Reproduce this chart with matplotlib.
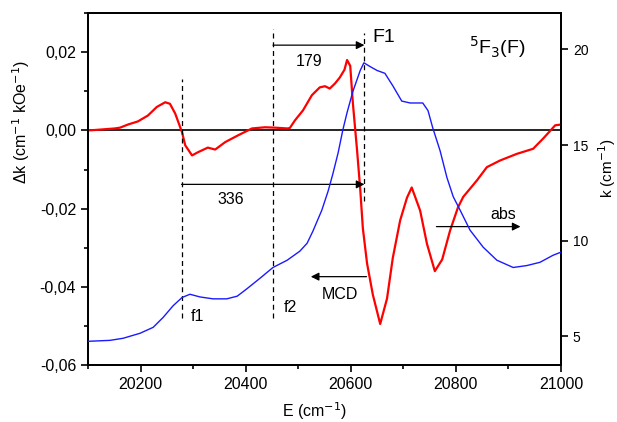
import numpy as np
import matplotlib
matplotlib.use("Agg")
import matplotlib.pyplot as plt
from matplotlib.ticker import MultipleLocator, FuncFormatter

plt.rcParams['font.family'] = ['Liberation Sans', 'DejaVu Sans']

# MCD spectrum (left axis)
e_mcd = [20100, 20113, 20123, 20151, 20161, 20176, 20195, 20214, 20231, 20247,
         20256, 20266, 20279, 20285, 20298, 20309, 20328, 20342, 20361, 20385,
         20412, 20437, 20456, 20479, 20484, 20494, 20509, 20526, 20541, 20551,
         20560, 20570, 20579, 20588, 20593, 20599, 20604, 20612, 20618, 20623,
         20631, 20642, 20656, 20669, 20680, 20694, 20707, 20716, 20732, 20745,
         20760, 20774, 20789, 20804, 20814, 20840, 20859, 20884, 20916, 20947,
         20966, 20989, 21000]
dk = [0.0, 0.0001, 0.0002, 0.0005, 0.0007, 0.0015, 0.0023, 0.0038, 0.0060, 0.0072,
      0.0068, 0.0043, -0.0005, -0.0038, -0.0064, -0.0056, -0.0044, -0.0049, -0.0030, -0.0013,
      0.0005, 0.0008, 0.0007, 0.0005, 0.0006, 0.0026, 0.0051, 0.0090, 0.0110, 0.0113,
      0.0107, 0.0120, 0.0135, 0.0155, 0.0180, 0.0165, 0.0070, -0.0051, -0.0150, -0.0250,
      -0.0340, -0.0420, -0.0495, -0.0430, -0.0326, -0.0230, -0.0172, -0.0146, -0.0205, -0.0290,
      -0.0360, -0.0330, -0.0256, -0.0197, -0.0170, -0.0128, -0.0094, -0.0077, -0.0060, -0.0047,
      -0.0021, 0.0013, 0.0015]

# absorption spectrum (right axis)
e_abs = [20100, 20142, 20167, 20199, 20224, 20243, 20262, 20279, 20294, 20313,
         20338, 20364, 20384, 20403, 20427, 20452, 20479, 20503, 20517, 20528,
         20545, 20557, 20566, 20576, 20585, 20593, 20604, 20618, 20625, 20637,
         20650, 20665, 20680, 20697, 20713, 20737, 20747, 20756, 20770, 20783,
         20795, 20808, 20827, 20852, 20878, 20909, 20935, 20960, 20985, 21000]
k = [4.74, 4.79, 4.9, 5.16, 5.47, 5.99, 6.6, 7.03, 7.2, 7.06,
     6.96, 6.96, 7.1, 7.5, 8.03, 8.6, 8.98, 9.45, 9.87, 10.5,
     11.6, 12.6, 13.5, 14.6, 15.8, 16.7, 17.8, 18.9, 19.3, 19.1,
     18.9, 18.75, 18.1, 17.3, 17.2, 17.2, 16.8, 15.9, 14.7, 13.3,
     12.3, 11.6, 10.55, 9.66, 8.98, 8.6, 8.7, 8.87, 9.24, 9.4]

fig = plt.figure(figsize=(6.17, 4.22), dpi=100)
ax = fig.add_axes([0.1426, 0.135, 0.7666, 0.834])
ax2 = ax.twinx()

ax.plot(e_mcd, dk, color='red', lw=1.6, zorder=3)
ax2.plot(e_abs, k, color='#1a1aff', lw=1.0, zorder=3)
ax.axhline(0, color='black', lw=1.2, zorder=2)

ax.set_xlim(20100, 21000)
ax.set_ylim(-0.06, 0.03)
ax2.set_ylim(3.5, 21.9)

ax.xaxis.set_major_locator(MultipleLocator(200))
ax.xaxis.set_minor_locator(MultipleLocator(100))
ax.yaxis.set_major_locator(MultipleLocator(0.02))
ax.yaxis.set_minor_locator(MultipleLocator(0.01))
ax2.yaxis.set_major_locator(MultipleLocator(5))
ax.yaxis.set_major_formatter(FuncFormatter(lambda v, p: ('%.2f' % v).replace('.', ',').replace('-0,00', '0,00')))

ax.tick_params(axis='both', which='major', direction='out', length=5, width=1.2, labelsize=11.5)
ax.tick_params(axis='both', which='minor', direction='out', length=3, width=1.2)
ax2.tick_params(axis='y', which='major', direction='out', length=5, width=1.2, labelsize=10)
for a in (ax, ax2):
    for s in a.spines.values():
        s.set_linewidth(1.3)

ax.set_xlabel('E (cm$^{-1}$)', fontsize=11.5)
ax.set_ylabel('Δk (cm$^{-1}$ kOe$^{-1}$)', fontsize=11.5)
ax2.set_ylabel('k (cm$^{-1}$)', fontsize=11, ha='center', va='center')
ax.yaxis.set_label_coords(-0.118, 0.69)
ax2.yaxis.set_label_coords(1.098, 0.56)
ax.xaxis.set_label_coords(0.48, -0.1)

# dashed markers
dash = dict(color='black', lw=0.9, ls=(0, (4, 3)), zorder=4)
ax.plot([20278, 20278], [-0.048, 0.0131], **dash)
ax.plot([20452, 20452], [-0.048, 0.026], **dash)
ax.plot([20626, 20626], [-0.018, 0.025], **dash)

arr = dict(arrowstyle='-|>', color='black', lw=0.9, mutation_scale=12, shrinkA=0, shrinkB=0)
ax.annotate('', xy=(20626, 0.0218), xytext=(20452, 0.0218), arrowprops=arr)
ax.annotate('', xy=(20626, -0.0138), xytext=(20278, -0.0138), arrowprops=arr)
ax.annotate('', xy=(20524, -0.0374), xytext=(20630, -0.0374), arrowprops=arr)
ax.annotate('', xy=(20923, -0.0246), xytext=(20763, -0.0246), arrowprops=arr)

ax.text(20521, 0.0175, '179', fontsize=11.5, ha='center', va='center')
ax.text(20372, -0.0177, '336', fontsize=11.5, ha='center', va='center')
ax.text(20580, -0.042, 'MCD', fontsize=11.5, ha='center', va='center')
ax.text(20891, -0.0215, 'abs', fontsize=11.5, ha='center', va='center')
ax.text(20309, -0.0477, 'f1', fontsize=11.5, ha='center', va='center')
ax.text(20485, -0.0454, 'f2', fontsize=11.5, ha='center', va='center')
ax.text(20662, 0.0237, 'F1', fontsize=14, ha='center', va='center')
ax.text(20878, 0.0212, '$^5$F$_3$(F)', fontsize=14, ha='center', va='center')

fig.savefig('out.png', dpi=100)
